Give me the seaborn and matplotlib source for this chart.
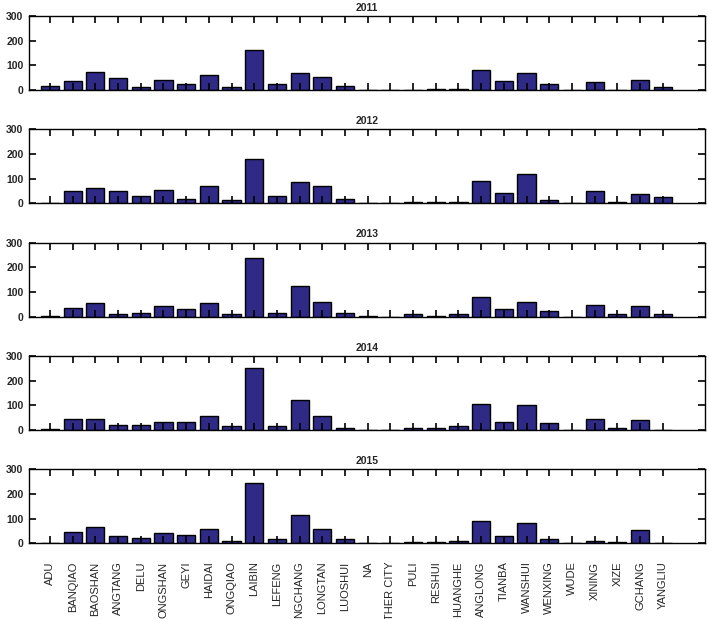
import pandas as pd
import numpy as np
import matplotlib.pyplot as plt
import seaborn as sns

# Town names as they show on the x axis
towns = ["ADU", "BANQIAO", "BAOSHAN", "ANGTANG", "DELU", "ONGSHAN", "GEYI",
         "HAIDAI", "ONGQIAO", "LAIBIN", "LEFENG", "NGCHANG", "LONGTAN",
         "LUOSHUI", "NA", "THER CITY", "PULI", "RESHUI", "HUANGHE",
         "ANGLONG", "TIANBA", "WANSHUI", "WENXING", "WUDE", "XINING", "XIZE",
         "GCHANG", "YANGLIU"]

# Counts per year
v2011 = [18, 37, 75, 49, 12, 42, 25, 61, 12, 161, 25, 68, 55, 18,
         0, 0, 0, 5, 6, 82, 37, 68, 25, 0, 31, 0, 42, 12]
v2012 = [0, 50, 63, 50, 31, 56, 19, 70, 14, 180, 31, 87, 70, 19,
         0, 0, 5, 5, 5, 89, 44, 119, 12, 0, 50, 5, 37, 25]
v2013 = [5, 36, 55, 11, 17, 43, 30, 55, 11, 237, 17, 124, 61, 17,
         5, 0, 11, 5, 11, 82, 30, 61, 24, 0, 48, 11, 43, 11]
v2014 = [5, 46, 46, 22, 22, 35, 35, 57, 17, 253, 17, 124, 57, 10,
         0, 0, 10, 10, 17, 107, 35, 100, 29, 0, 47, 10, 40, 0]
v2015 = [0, 48, 66, 29, 23, 41, 35, 60, 12, 247, 17, 114, 60, 17,
         0, 0, 5, 5, 12, 90, 29, 85, 17, 0, 12, 5, 53, 0]

years = ["2011", "2012", "2013", "2014", "2015"]
series = [v2011, v2012, v2013, v2014, v2015]

sns.set_style("ticks")
plt.rcParams["font.family"] = ["Liberation Sans", "DejaVu Sans"]
plt.rcParams["axes.axisbelow"] = False

fig, axes = plt.subplots(5, 1, figsize=(7.09, 6.19), dpi=100)
fig.subplots_adjust(left=0.041, right=0.994, top=0.974, bottom=0.122,
                    hspace=0.532)

for i, (ax, year, vals) in enumerate(zip(axes, years, series)):
    df = pd.DataFrame({"town": towns, "count": vals})
    sns.barplot(data=df, x="town", y="count", ax=ax, color="#2e2a86",
                saturation=1, edgecolor="black", linewidth=1, width=0.8)
    ax.set_axisbelow(False)
    ax.set_xticks(np.arange(len(towns)))
    ax.set_xticklabels(towns)
    ax.set_xlim(-0.92, 28.85)
    ax.set_ylim(0, 300)
    ax.set_yticks([0, 100, 200, 300])
    # boxed axes with inward ticks on all four sides
    ax.tick_params(axis="both", which="major", direction="in",
                   bottom=True, top=True, left=True, right=True,
                   length=5, width=1.2, color="black", labelsize=7.5)
    ax.tick_params(axis="y", pad=4)
    for lab in ax.get_yticklabels():
        lab.set_fontweight("bold")
    ax.set_title(year, fontsize=7.5, fontweight="bold", pad=4)
    ax.set_xlabel("")
    ax.set_ylabel("")
    for s in ax.spines.values():
        s.set_linewidth(1)
        s.set_color("black")
    if i < 4:
        ax.set_xticklabels([])
    else:
        ax.tick_params(axis="x", pad=13)
        plt.setp(ax.get_xticklabels(), rotation=90, ha="center", va="top",
                 fontsize=8)

fig.savefig("out.png", dpi=100)
